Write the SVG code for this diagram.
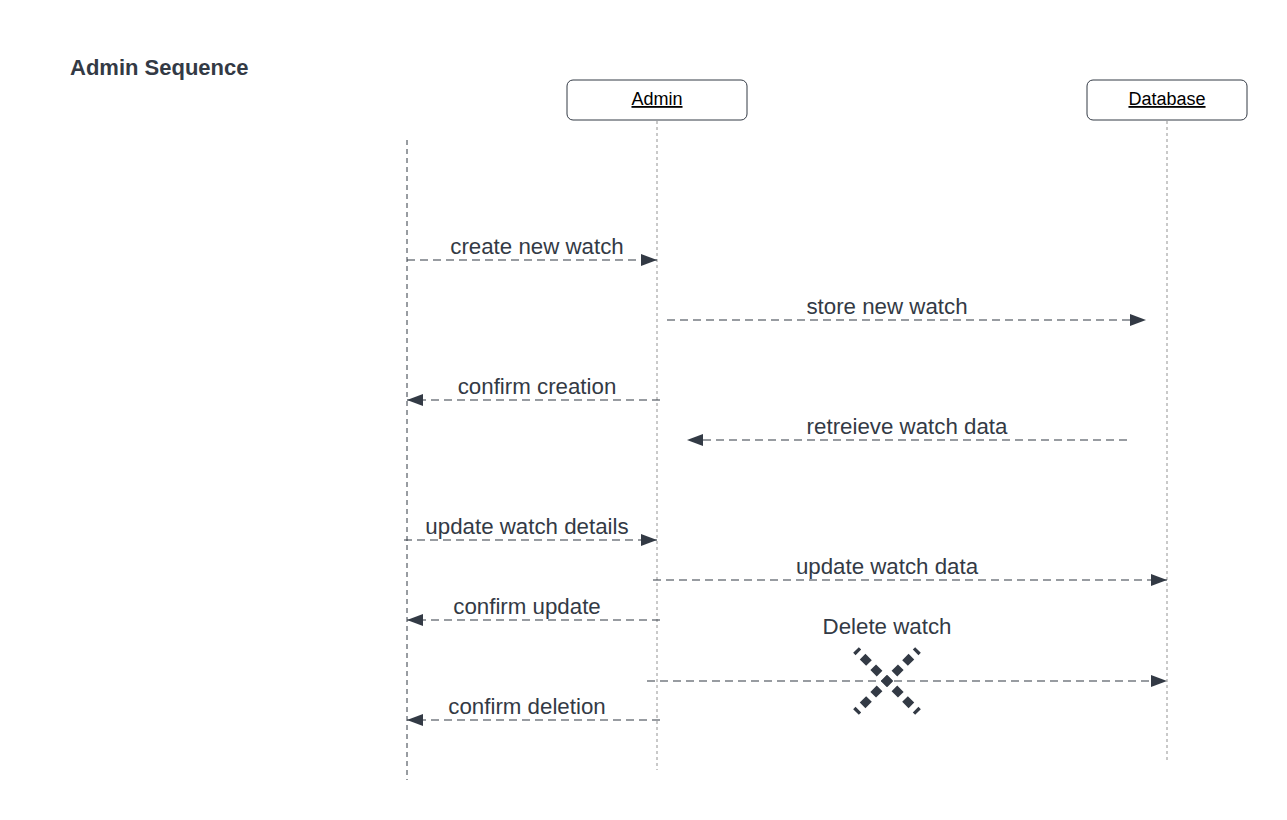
<svg xmlns="http://www.w3.org/2000/svg" width="1287" height="820" viewBox="0 0 1287 820">
<style>
.t{font-family:"Liberation Sans",Arial,sans-serif;font-size:22.3px;fill:#333a45;text-anchor:middle}
.h{font-family:"Liberation Sans",Arial,sans-serif;font-size:22px;font-weight:bold;fill:#333a45}
.a{font-family:"Liberation Sans",Arial,sans-serif;font-size:18px;fill:#000;text-anchor:middle;text-decoration:underline}
.box{fill:#fff;stroke:#333a45;stroke-width:1}
.ll{stroke:#b8b8b8;stroke-width:1.5;stroke-dasharray:3 3;fill:none}
.m{stroke:#333a45;stroke-width:1.2;stroke-dasharray:8 5;fill:none;marker-end:url(#ah)}
</style>
<defs>
<marker id="ah" viewBox="0 0 16 12" refX="16" refY="6" markerWidth="16" markerHeight="12" markerUnits="userSpaceOnUse" orient="auto">
<path d="M0,0 L16,6 L0,12 z" fill="#333a45"/>
</marker>
</defs>
<rect width="1287" height="820" fill="#fff"/>
<text class="h" x="70" y="75">Admin Sequence</text>
<g id="lifeline-left">
<line x1="407" y1="140" x2="407" y2="780" stroke="#333a45" stroke-width="1" stroke-dasharray="5 4"/>
</g>
<g id="admin">
<line class="ll" x1="657" y1="121" x2="657" y2="770"/>
<rect class="box" x="567" y="80" width="180" height="40" rx="6"/>
<text class="a" x="657" y="105">Admin</text>
</g>
<g id="database">
<line class="ll" x1="1167" y1="121" x2="1167" y2="760"/>
<rect class="box" x="1087" y="80" width="160" height="40" rx="6"/>
<text class="a" x="1167" y="105">Database</text>
</g>
<g id="connectors">
<line class="m" x1="407" y1="260" x2="657" y2="260"/>
<line class="m" x1="667" y1="320" x2="1146" y2="320"/>
<line class="m" x1="660" y1="400" x2="407" y2="400"/>
<line class="m" x1="1127" y1="440" x2="687" y2="440"/>
<line class="m" x1="404" y1="540" x2="657" y2="540"/>
<line class="m" x1="653" y1="580" x2="1167" y2="580"/>
<line class="m" x1="660" y1="620" x2="407" y2="620"/>
<line class="m" x1="647" y1="681" x2="1167" y2="681"/>
<line class="m" x1="660" y1="720" x2="407" y2="720"/>
</g>
<g id="labels">
<text class="t" x="537" y="254">create new watch</text>
<text class="t" x="887" y="314">store new watch</text>
<text class="t" x="537" y="394">confirm creation</text>
<text class="t" x="907" y="434">retreieve watch data</text>
<text class="t" x="527" y="534">update watch details</text>
<text class="t" x="887" y="574">update watch data</text>
<text class="t" x="527" y="614">confirm update</text>
<text class="t" x="887" y="634">Delete watch</text>
<text class="t" x="527" y="714">confirm deletion</text>
</g>
<g id="destroy" stroke="#333a45" stroke-width="8" stroke-dasharray="9 6" stroke-dashoffset="4.5" fill="none">
<line x1="887" y1="681" x2="856" y2="650"/>
<line x1="887" y1="681" x2="918" y2="650"/>
<line x1="887" y1="681" x2="856" y2="712"/>
<line x1="887" y1="681" x2="918" y2="712"/>
</g>
</svg>
